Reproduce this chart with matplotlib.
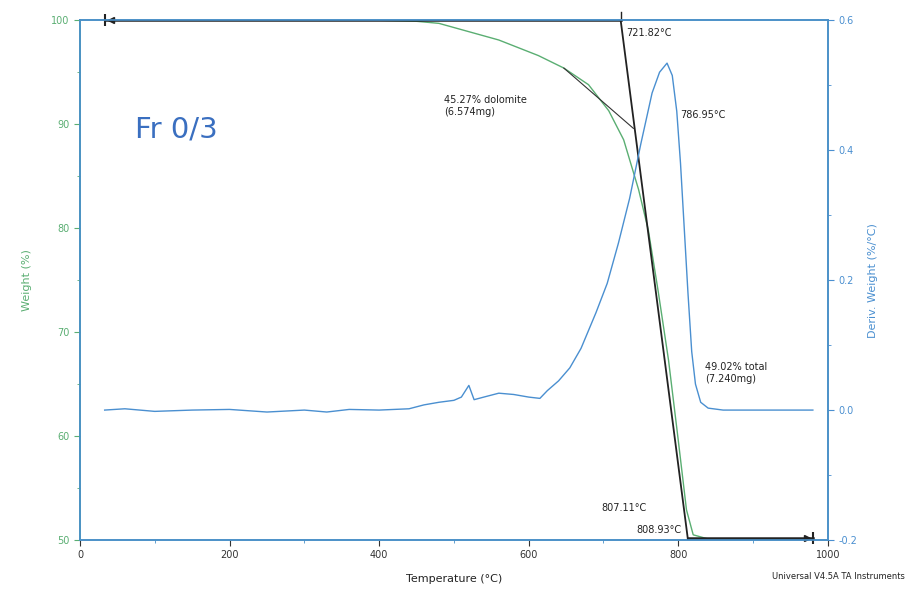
import matplotlib
matplotlib.use("Agg")
import matplotlib.pyplot as plt
from matplotlib.ticker import MultipleLocator

# weight curve (TGA)
temp_w = [33, 200, 400, 450, 480, 500, 560, 613, 647, 680, 707, 727, 747, 760, 773, 787, 800, 811, 820, 840, 900, 980]
weight = [100.0, 100.0, 100.0, 99.9, 99.7, 99.3, 98.1, 96.6, 95.4, 93.8, 91.3, 88.5, 83.7, 79.8, 74.0, 67.3, 59.6, 52.9, 50.5, 50.1, 50.05, 50.0]

# derivative weight curve (DTG)
temp_d = [33, 60, 100, 150, 200, 250, 300, 330, 360, 400, 440, 460, 480, 500, 510, 520, 527, 540,
          560, 580, 600, 615, 625, 640, 655, 670, 690, 705, 720, 735, 750, 765, 775, 785, 792,
          798, 803, 808, 813, 818, 823, 830, 840, 860, 900, 980]
deriv = [0.0, 0.002, -0.002, 0.0, 0.001, -0.003, 0.0, -0.003, 0.001, 0.0, 0.002, 0.008, 0.012, 0.015, 0.02,
         0.038, 0.016, 0.02, 0.026, 0.024, 0.02, 0.018, 0.03, 0.045, 0.065, 0.095, 0.15, 0.195, 0.257,
         0.326, 0.41, 0.488, 0.52, 0.534, 0.515, 0.46, 0.38, 0.28, 0.18, 0.09, 0.04, 0.012, 0.003, 0.0, 0.0, 0.0]

# onset / step construction lines
step_top_t = [33, 723]
step_top_w = [100.0, 100.0]
tangent_t = [723, 813]
tangent_w = [100.0, 50.0]
step_bot_t = [813, 980]
step_bot_w = [50.2, 50.2]
shoulder_t = [647, 740]
shoulder_w = [95.4, 89.6]

green = "#5aae72"
blue = "#4a8fd0"
spine_blue = "#4a90c8"

fig = plt.figure(figsize=(9.12, 5.92), dpi=100)
ax = fig.add_axes([0.0877, 0.0878, 0.820, 0.878])
ax2 = ax.twinx()

ax.plot(temp_w, weight, color=green, lw=1.0, zorder=2)
ax.plot(step_top_t, step_top_w, color="#222222", lw=1.8, zorder=3)
ax.plot(tangent_t, tangent_w, color="#222222", lw=1.3, zorder=3)
ax.plot(step_bot_t, step_bot_w, color="#222222", lw=1.8, zorder=3)
ax.plot(shoulder_t, shoulder_w, color="#333333", lw=0.8, zorder=3)
ax.plot([step_top_t[0]], [step_top_w[0]], marker="|", ms=8, mew=1.5, color="#222222", zorder=4, clip_on=False)
ax.plot([step_top_t[0] + 8], [step_top_w[0]], marker="<", ms=5, color="#222222", zorder=4, clip_on=False)
ax.plot([step_bot_t[1]], [step_bot_w[1]], marker="|", ms=8, mew=1.5, color="#222222", zorder=4, clip_on=False)
ax.plot([step_bot_t[1] - 8], [step_bot_w[1]], marker=">", ms=5, color="#222222", zorder=4, clip_on=False)
ax.plot([723, 723], [100.0, 100.8], color="#222222", lw=1.0, clip_on=False)

ax2.plot(temp_d, deriv, color=blue, lw=1.0)

ax.set_xlim(0, 1000)
ax.set_ylim(50, 100)
ax2.set_ylim(-0.2, 0.6)

ax.xaxis.set_major_locator(MultipleLocator(200))
ax.xaxis.set_minor_locator(MultipleLocator(100))
ax.yaxis.set_major_locator(MultipleLocator(10))
ax.yaxis.set_minor_locator(MultipleLocator(5))
ax2.yaxis.set_major_locator(MultipleLocator(0.2))
ax2.yaxis.set_minor_locator(MultipleLocator(0.1))
ax2.yaxis.set_major_formatter(plt.FuncFormatter(lambda v, p: f"{v:.1f}"))

for a in (ax, ax2):
    for s in a.spines.values():
        s.set_color(spine_blue)
        s.set_linewidth(1.2)
ax.spines["left"].set_color("#3c9aa0")

ax.tick_params(axis="x", labelsize=7, colors="#333333", length=4)
ax.tick_params(axis="x", which="minor", length=2, color=spine_blue)
ax.tick_params(axis="y", labelsize=7, colors=green, length=4)
ax.tick_params(axis="y", which="minor", length=2, color=green)
ax2.tick_params(axis="y", labelsize=7, colors=blue, length=4)
ax2.tick_params(axis="y", which="minor", length=2, color=blue)

ax.set_xlabel("Temperature (°C)", fontsize=8, color="#222222", labelpad=10)
ax.set_ylabel("Weight (%)", fontsize=8, color=green, labelpad=14)
ax2.set_ylabel("Deriv. Weight (%/°C)", fontsize=8, color=blue, labelpad=8)

ax.text(0.074, 0.775, "Fr 0/3", transform=ax.transAxes, fontsize=21, color="#3a6fc0")

fs = 7
ax.text(487, 92.8, "45.27% dolomite\n(6.574mg)", fontsize=fs, va="top", color="#222222")
ax.text(731, 98.8, "721.82°C", fontsize=fs, va="center", color="#222222")
ax.text(803, 90.9, "786.95°C", fontsize=fs, va="center", color="#222222")
ax.text(836, 67.1, "49.02% total\n(7.240mg)", fontsize=fs, va="top", color="#222222")
ax.text(697, 53.1, "807.11°C", fontsize=fs, va="center", ha="left", color="#222222")
ax.text(744, 51.0, "808.93°C", fontsize=fs, va="center", ha="left", color="#222222")

fig.text(0.992, 0.022, "Universal V4.5A TA Instruments", fontsize=6, ha="right", color="#222222")

fig.savefig("out.png", dpi=100)
